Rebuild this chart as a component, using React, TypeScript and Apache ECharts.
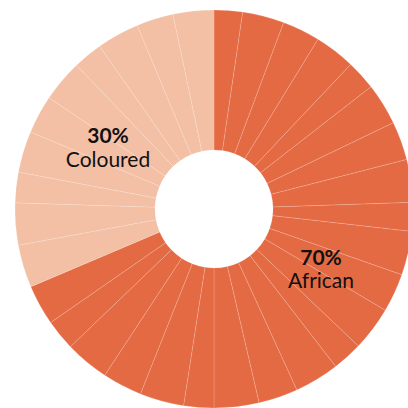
import React, { useEffect, useRef } from "react";
import * as echarts from "echarts";

// Slice sizes (degrees of the ring), read clockwise from 12 o'clock
const africanSlices = [8.3, 12.2, 11.0, 11.9, 8.7, 12.2, 11.3, 12.5, 8.4, 12.8, 11.3, 12.9, 8.8, 13.1, 11.5, 13.1, 8.8, 12.9, 11.6, 12.9, 9.0, 11.8];
const colouredSlices = [12.5, 12.3, 8.9, 12.1, 11.2, 12.3, 8.6, 12.4, 10.8, 11.9];

const groupNames = ["African", "Coloured"];
const groupPercents = ["70%", "30%"];
const groupColors = ["#E46A43", "#F3BFA5"];

export default function App() {
  const ref = useRef<HTMLDivElement>(null);
  useEffect(() => {
    if (!ref.current) return;
    const chart = echarts.init(ref.current, null, { renderer: "svg" });
    const data = [
      ...africanSlices.map((v, i) => ({ name: groupNames[0] + " " + (i + 1), value: v, itemStyle: { color: groupColors[0] } })),
      ...colouredSlices.map((v, i) => ({ name: groupNames[1] + " " + (i + 1), value: v, itemStyle: { color: groupColors[1] } })),
    ];
    const font = "Lato, sans-serif";
    const txt = (x: number, y: number, text: string, bold: boolean) => ({
      type: "text",
      x,
      y,
      z: 100,
      zlevel: 1,
      silent: true,
      style: {
        text,
        fontFamily: font,
        fontSize: 21,
        fontWeight: bold ? "bold" : "normal",
        fill: "#111111",
        align: "center",
        verticalAlign: "middle",
      },
    });
    chart.setOption({
      animation: false,
      backgroundColor: "#ffffff",
      series: [
        {
          type: "pie",
          center: [214, 209],
          radius: [59, 199],
          startAngle: 90,
          clockwise: true,
          silent: true,
          avoidLabelOverlap: false,
          label: { show: false },
          labelLine: { show: false },
          itemStyle: { borderColor: "rgba(255,255,255,0.22)", borderWidth: 0.7 },
          emphasis: { disabled: true },
          data,
        },
      ],
      graphic: [
        txt(321, 256, groupPercents[0], true),
        txt(321, 279, groupNames[0], false),
        txt(108, 134, groupPercents[1], true),
        txt(108, 158, groupNames[1], false),
      ],
    });
    return () => chart.dispose();
  }, []);
  return <div ref={ref} style={{ position: "fixed", left: 0, top: 0, width: 408, height: 408 }} />;
}
